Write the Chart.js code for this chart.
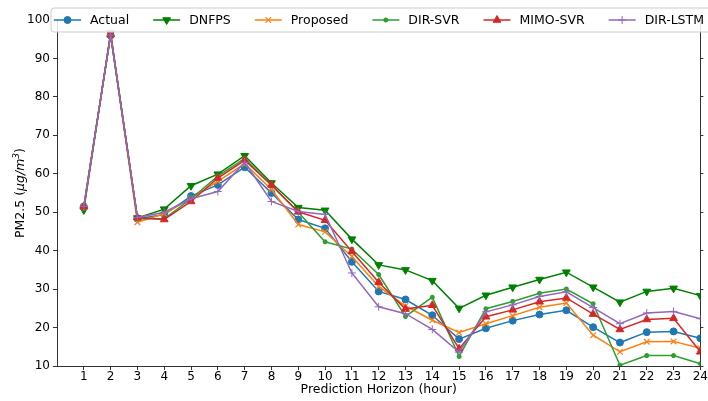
<!DOCTYPE html>
<html>
<head>
<meta charset="utf-8">
<script src="https://cdn.jsdelivr.net/npm/chart.js@4.4.0/dist/chart.umd.min.js"></script>
<style>
  html, body { margin: 0; padding: 0; background: #fff; }
  canvas { display: block; }
</style>
</head>
<body>
<canvas id="chart" width="708" height="401"></canvas>
<script>
// prediction horizon (hours)
const horizon = [1, 2, 3, 4, 5, 6, 7, 8, 9, 10, 11, 12, 13, 14, 15, 16, 17, 18, 19, 20, 21, 22, 23, 24];

const actual   = [51.5, 96.0, 48.3, 49.4, 54.2, 57.1, 61.7, 55.0, 48.1, 45.8, 37.1, 29.4, 27.3, 23.2, 17.0, 19.8, 21.8, 23.4, 24.5, 20.1, 16.1, 18.8, 19.0, 17.2];
const dnfps    = [50.6, 96.6, 48.5, 50.8, 56.9, 59.9, 64.7, 57.6, 51.2, 50.5, 43.0, 36.3, 35.0, 32.2, 25.0, 28.4, 30.5, 32.5, 34.4, 30.5, 26.6, 29.4, 30.2, 28.3];
const proposed = [51.3, 96.3, 47.4, 49.6, 53.6, 58.0, 62.6, 55.9, 46.8, 44.9, 38.5, 30.7, 25.6, 21.9, 18.7, 21.0, 23.1, 25.3, 26.4, 18.0, 13.7, 16.3, 16.4, 14.6];
const dirSvr   = [51.0, 96.4, 48.3, 48.3, 53.5, 59.4, 64.0, 57.0, 50.0, 42.3, 40.4, 33.8, 22.9, 27.9, 12.5, 24.9, 26.8, 28.9, 30.0, 26.2, 10.2, 12.7, 12.7, 10.6];
const mimoSvr  = [51.4, 96.2, 48.6, 48.1, 52.8, 58.9, 63.5, 57.1, 50.1, 47.9, 39.8, 31.8, 24.8, 25.8, 14.5, 22.8, 24.6, 26.7, 27.7, 23.5, 19.5, 22.1, 22.4, 13.7];
const dirLstm  = [51.5, 96.1, 48.6, 50.0, 53.5, 55.4, 63.0, 52.8, 50.2, 49.4, 34.2, 25.4, 23.6, 19.5, 13.6, 24.1, 25.9, 28.1, 29.3, 25.2, 21.0, 23.8, 24.2, 22.3];

const yTicks = [10, 20, 30, 40, 50, 60, 70, 80, 90, 100];

// y title pieces: [text, italic, superscript]
const yTitle = [['PM2.5 (', false, false], ['μg/m', true, false], ['3', true, true], [')', false, false]];

const series = [
    { label: 'Actual',    values: actual,   color: '#1f77b4', style: 'circle',   radius: 3.5, rot: 0,   bw: 1 },
    { label: 'DNFPS',     values: dnfps,    color: '#008000', style: 'triangle', radius: 4.5, rot: 180, bw: 1 },
    { label: 'Proposed',  values: proposed, color: '#ff7f0e', style: 'crossRot', radius: 4,   rot: 0,   bw: 1.2 },
    { label: 'DIR-SVR',   values: dirSvr,   color: '#2ca02c', style: 'star',     radius: 2.5, rot: 0,   bw: 1.5 },
    { label: 'MIMO-SVR',  values: mimoSvr,  color: '#d62728', style: 'triangle', radius: 4.5, rot: 0,   bw: 1 },
    { label: 'DIR-LSTM',  values: dirLstm,  color: '#9467bd', style: 'cross',    radius: 4,   rot: 0,   bw: 1 }
];

const FONT = '"DejaVu Sans", sans-serif';
Chart.defaults.font.family = FONT;
Chart.defaults.font.size = 12;
Chart.defaults.color = '#000';

// matplotlib-style legend box drawn over the top of the plot
const boxLegend = {
    id: 'boxLegend',
    afterDraw(chart) {
        const ctx = chart.ctx;
        const y = 20;
        ctx.save();
        ctx.beginPath();
        ctx.roundRect(51, 8, 680, 24, 3);
        ctx.fillStyle = 'rgba(255,255,255,0.85)';
        ctx.fill();
        ctx.strokeStyle = '#cccccc';
        ctx.lineWidth = 1;
        ctx.stroke();

        ctx.font = '12.5px ' + FONT;
        ctx.textBaseline = 'middle';
        let x = 54;
        chart.data.datasets.forEach(ds => {
            ctx.strokeStyle = ds.borderColor;
            ctx.lineWidth = 1.5;
            ctx.beginPath();
            ctx.moveTo(x, y);
            ctx.lineTo(x + 27, y);
            ctx.stroke();
            ctx.fillStyle = ds.pointBackgroundColor;
            ctx.strokeStyle = ds.pointBorderColor;
            ctx.lineWidth = ds.pointBorderWidth;
            Chart.helpers.drawPoint(ctx, {
                pointStyle: ds.pointStyle,
                rotation: ds.pointRotation,
                radius: ds.pointRadius,
                borderWidth: ds.pointBorderWidth
            }, x + 13.5, y);
            ctx.fillStyle = '#000';
            ctx.fillText(ds.label, x + 36, y + 0.5);
            x += 36 + ctx.measureText(ds.label).width + 24;
        });
        ctx.restore();
    }
};

// rotated y-axis title with italic unit and superscript
const yTitlePlugin = {
    id: 'yTitle',
    afterDraw(chart) {
        const ctx = chart.ctx;
        const a = chart.chartArea;
        const fontFor = p => (p[1] ? 'italic ' : '') + (p[2] ? '9px ' : '12.5px ') + FONT;
        ctx.save();
        let total = 0;
        yTitle.forEach(p => { ctx.font = fontFor(p); total += ctx.measureText(p[0]).width; });
        ctx.translate(19, (a.top + a.bottom) / 2);
        ctx.rotate(-Math.PI / 2);
        ctx.fillStyle = '#000';
        ctx.textBaseline = 'alphabetic';
        let x = -total / 2;
        yTitle.forEach(p => {
            ctx.font = fontFor(p);
            ctx.fillText(p[0], x, p[2] ? 0 : 4.5);
            x += ctx.measureText(p[0]).width;
        });
        ctx.restore();
    }
};

const datasets = series.map((s, i) => ({
    label: s.label,
    data: horizon.map((h, k) => ({ x: h, y: s.values[k] })),
    borderColor: s.color,
    backgroundColor: s.color,
    borderWidth: 1.5,
    pointStyle: s.style,
    pointRotation: s.rot,
    pointRadius: s.radius,
    pointBackgroundColor: s.color,
    pointBorderColor: s.color,
    pointBorderWidth: s.bw,
    tension: 0,
    fill: false,
    order: series.length - i
}));

new Chart(document.getElementById('chart').getContext('2d'), {
    type: 'line',
    data: { datasets },
    options: {
        responsive: false,
        animation: false,
        devicePixelRatio: 1,
        layout: { padding: { top: 20, right: 0, bottom: 0, left: 0 } },
        plugins: {
            legend: { display: false },
            tooltip: { enabled: false }
        },
        scales: {
            x: {
                type: 'linear',
                min: 0,
                max: 24,
                afterFit: s => { s.height = 35; },
                afterBuildTicks: s => { s.ticks = horizon.map(v => ({ value: v })); },
                ticks: {
                    autoSkip: false,
                    maxRotation: 0,
                    padding: 0,
                    color: '#000',
                    font: { size: 12 }
                },
                grid: { drawOnChartArea: false, drawTicks: true, tickLength: 4, color: '#333' },
                border: { display: true, color: '#333', width: 1 },
                title: {
                    display: true,
                    text: 'Prediction Horizon (hour)',
                    color: '#000',
                    font: { size: 12.5 },
                    padding: { top: 0, bottom: 4 }
                }
            },
            y: {
                type: 'linear',
                position: 'left',
                min: 10,
                max: 100,
                afterFit: s => { s.width = 57; },
                afterBuildTicks: s => { s.ticks = yTicks.map(v => ({ value: v })); },
                ticks: { padding: 3, color: '#000', font: { size: 12 } },
                grid: { drawOnChartArea: false, drawTicks: true, tickLength: 4, color: '#333' },
                border: { display: true, color: '#333', width: 1 }
            },
            y2: {
                type: 'linear',
                position: 'right',
                min: 10,
                max: 100,
                afterFit: s => { s.width = 6; },
                afterBuildTicks: s => { s.ticks = yTicks.map(v => ({ value: v })); },
                ticks: { display: false },
                grid: { drawOnChartArea: false, drawTicks: true, tickLength: 3, color: '#333' },
                border: { display: true, color: '#333', width: 1 }
            }
        }
    },
    plugins: [yTitlePlugin, boxLegend]
});
</script>
</body>
</html>
